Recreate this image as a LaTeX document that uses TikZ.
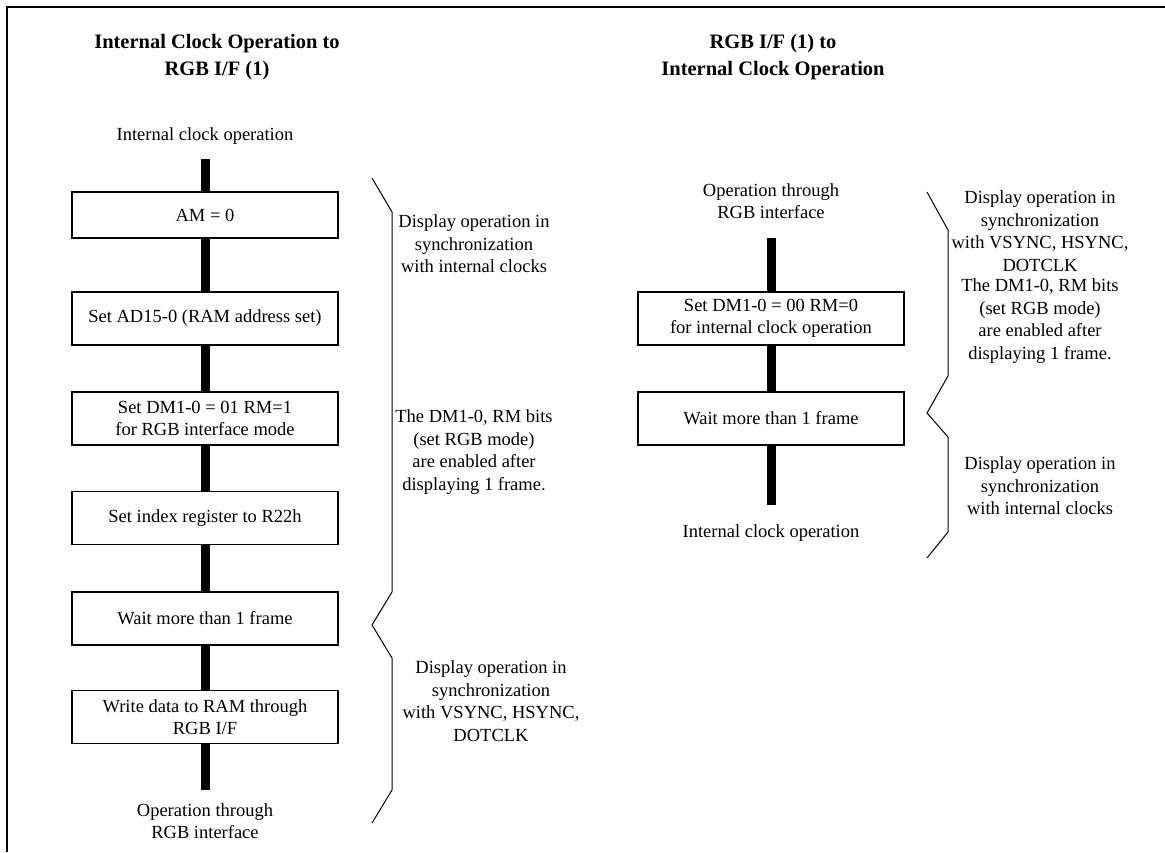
\documentclass[tikz,border=0pt]{standalone}
\usepackage{fontspec}
\setmainfont{Liberation Serif}
\newcommand\mytxt{\fontsize{18.5}{22.5}\selectfont}
\newcommand\myttl{\fontsize{20.5}{27}\selectfont\bfseries}
\begin{document}
\begin{tikzpicture}[x=1pt,y=-1pt,
  box/.style={draw,line width=1.3pt,minimum width=266pt,minimum height=53pt,align=center,inner sep=3pt,font=\mytxt,fill=white},
  lbl/.style={align=center,font=\mytxt,inner sep=0pt},
  ttl/.style={align=center,font=\myttl,inner sep=0pt},
  bar/.style={line width=9pt},
  brace/.style={line width=1pt}]
\useasboundingbox (0,0) rectangle (1165,852);
\draw[line width=2pt] (7,852) -- (7,7) -- (1165,7);
% left column
\node[ttl] (t1) at (217,57) {Internal Clock Operation to\\RGB I/F (1)};
\node[lbl] (s1) at (205,136) {Internal clock operation};
\coordinate (s1b) at (205,159);
\node[box,minimum height=46pt] (b1) at (205,215) {AM = 0};
\node[box] (b2) at (205,318.5) {Set AD15-0 (RAM address set)};
\node[box] (b3) at (205,418.5) {Set DM1-0 = 01 RM=1\\for RGB interface mode};
\node[box] (b4) at (205,518) {Set index register to R22h};
\node[box] (b5) at (205,618.5) {Wait more than 1 frame};
\node[box] (b6) at (205,717) {Write data to RAM through\\RGB I/F};
\coordinate (b6e) at (205,790);
\node[lbl] (s4) at (205,821) {Operation through\\RGB interface};
\draw[bar] (s1b) -- (b1.north);
\draw[bar] (b1.south) -- (b2.north);
\draw[bar] (b2.south) -- (b3.north);
\draw[bar] (b3.south) -- (b4.north);
\draw[bar] (b4.south) -- (b5.north);
\draw[bar] (b5.south) -- (b6.north);
\draw[bar] (b6.south) -- (b6e);
% left brace and notes
\draw[brace] (372,178) -- (392,212) -- (392,592) -- (372,625) -- (392,658) -- (392,790) -- (372,823);
\node[lbl] (n1) at (474,244) {Display operation in\\synchronization\\with internal clocks};
\node[lbl] (n2) at (474,452) {The DM1-0, RM bits\\(set RGB mode)\\are enabled after\\displaying 1 frame.};
\node[lbl] (n3) at (491,701) {Display operation in\\synchronization\\with VSYNC, HSYNC,\\DOTCLK};
% right column
\node[ttl] (t2) at (773,57) {RGB I/F (1) to\\Internal Clock Operation};
\node[lbl] (s2) at (771,201) {Operation through\\RGB interface};
\coordinate (s2b) at (771,238);
\node[box] (r1) at (771,318.5) {Set DM1-0 = 00 RM=0\\for internal clock operation};
\node[box] (r2) at (771,418.5) {Wait more than 1 frame};
\coordinate (r2e) at (771,505);
\node[lbl] (s3) at (771,533) {Internal clock operation};
\draw[bar] (s2b) -- (r1.north);
\draw[bar] (r1.south) -- (r2.north);
\draw[bar] (r2.south) -- (r2e);
% right brace and notes
\draw[brace] (927,192) -- (948,230) -- (948,376) -- (927,413) -- (948,437) -- (948,532) -- (927,558);
\node[lbl] (m1) at (1040,231) {Display operation in\\synchronization\\with VSYNC, HSYNC,\\DOTCLK};
\node[lbl] (m2) at (1040,321) {The DM1-0, RM bits\\(set RGB mode)\\are enabled after\\displaying 1 frame.};
\node[lbl] (m3) at (1040,486) {Display operation in\\synchronization\\with internal clocks};
\end{tikzpicture}
\end{document}
